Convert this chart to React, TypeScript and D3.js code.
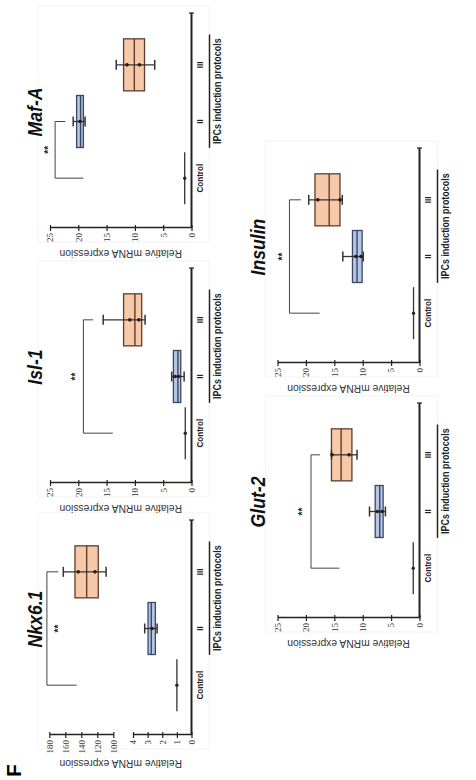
import React, { useEffect, useRef } from 'react';
import * as d3 from 'd3';

const categories = ["Control", "II", "III"];
const genes = ["Nkx6.1", "Isl-1", "Maf-A", "Glut-2", "Insulin"];
const yTicks = [0, 5, 10, 15, 20, 25];
const nkxLowTicks = [0, 1, 2, 3, 4];
const nkxHighTicks = [100, 120, 140, 160, 180];

// control group (relative expression ~1)
const controlMean = [1.0, 1.1, 1.2, 1.1, 1.05];

// protocol II
const q1II = [2.47, 1.9, 19.1, 6.4, 10.1];
const medianII = [2.75, 2.4, 19.6, 7.0, 11.0];
const q3II = [2.97, 3.2, 20.3, 7.8, 11.8];
const lowII = [2.35, 1.3, 18.8, 6.0, 9.9];
const highII = [3.2, 3.5, 20.9, 8.8, 13.5];
const dotsII = [[2.7], [2.9, 2.3], [19.7], [7.4, 6.6], [11.2, 10.3]];

// protocol III
const q1III = [118.8, 8.8, 8.3, 11.9, 14.0];
const medianIII = [133.3, 10.0, 10.1, 13.8, 15.9];
const q3III = [147.9, 12.0, 12.0, 15.5, 18.4];
const lowIII = [109, 8.2, 6.5, 11.0, 13.6];
const highIII = [162.5, 15.6, 13.3, 15.5, 19.5];
const dotsIII = [[143.8, 122.9], [10.9, 9.3], [11.4, 9.2], [15.4, 12.4], [17.9, 14.0]];

// significance brackets
const bracketTarget = ["III", "III", "II", "III", "III"];
const bracketTop = [183, 19.1, 24.1, 19.1, 22.9];
const bracketLegControl = [145.8, 13.9, 19.1, 14.1, 17.6];
const bracketLegTarget = [168.8, 17.4, 22.3, 17.5, 20.9];
const starsAt = [170.8, 20.9, 25.6, 21.0, 24.4];

// panel placement in the unrotated figure (780 wide, 476 tall)
const panels = [
  { x: 45, base: 191.5, top: 50, titleY: 41.5, labelOff: 28 },
  { x: 297, base: 191.5, top: 50, titleY: 41.5, labelOff: 25 },
  { x: 552, base: 191.5, top: 50, titleY: 41.5, labelOff: 25 },
  { x: 162, base: 419.5, top: 277.5, titleY: 265, labelOff: 25 },
  { x: 417, base: 419.5, top: 277.5, titleY: 265, labelOff: 25 },
];

const sans = "'Liberation Sans', Arial, sans-serif";
const serif = "'Liberation Serif', 'Times New Roman', serif";
const ORANGE = "#f8c9a8", ORANGE_STROKE = "#5c3d2e";
const BLUE = "#b4c6e4", BLUE_STROKE = "#3b4763";

const App = () => {
  const svgRef = useRef(null);

  useEffect(() => {
    const svg = d3.select(svgRef.current);
    svg.selectAll("*").remove();

    const root = svg.append("g").attr("transform", "translate(0,780) rotate(-90)");

    root.append("text")
      .attr("x", 3).attr("y", 21)
      .attr("font-family", sans).attr("font-weight", "bold").attr("font-size", 21)
      .text("F");

    const styleAxis = (g) => {
      g.select(".domain").attr("stroke", "#222").attr("stroke-width", 1.6);
      g.selectAll(".tick line").attr("stroke", "#222").attr("stroke-width", 1.2);
      g.selectAll(".tick line").clone().attr("x2", 3);
      g.selectAll(".tick text").attr("font-family", serif).attr("font-size", 9).attr("fill", "#333");
    };

    genes.forEach((gene, i) => {
      const L = panels[i];
      const g = root.append("g");
      const x = d3.scaleBand(categories, [L.x + 21.5, L.x + 191.5]);
      const cx = (c) => x(c) + x.bandwidth() / 2;
      const boxW = 52;

      // faint frame
      g.append("rect")
        .attr("x", L.x - 14).attr("y", L.top - 12)
        .attr("width", 236).attr("height", L.base - L.top + 30)
        .attr("fill", "none").attr("stroke", "#f3f3f3").attr("stroke-width", 1);

      let yv;
      if (i === 0) {
        const lo = d3.scaleLinear([0, 4], [L.base, 133]);
        const hi = d3.scaleLinear([100, 180], [113.3, 49.3]);
        yv = (v) => (v >= 50 ? hi(v) : lo(v));
        g.append("g").attr("transform", `translate(${L.x},0)`)
          .call(d3.axisLeft(lo).tickValues(nkxLowTicks).tickFormat(d3.format("d")).tickSize(3).tickPadding(2).tickSizeOuter(0))
          .call(styleAxis);
        g.append("g").attr("transform", `translate(${L.x},0)`)
          .call(d3.axisLeft(hi).tickValues(nkxHighTicks).tickFormat(d3.format("d")).tickSize(3).tickPadding(2).tickSizeOuter(0))
          .call(styleAxis);
      } else {
        const y = d3.scaleLinear([0, 25], [L.base, L.top]);
        yv = y;
        g.append("g").attr("transform", `translate(${L.x},0)`)
          .call(d3.axisLeft(y).tickValues(yTicks).tickFormat(d3.format("d")).tickSize(3).tickPadding(2).tickSizeOuter(0))
          .call(styleAxis);
      }

      // x axis
      g.append("line")
        .attr("x1", L.x).attr("x2", L.x + 215)
        .attr("y1", L.base).attr("y2", L.base)
        .attr("stroke", "#222").attr("stroke-width", 2);
      g.append("line")
        .attr("x1", L.x + 215).attr("x2", L.x + 215)
        .attr("y1", L.base - 2.5).attr("y2", L.base + 2.5)
        .attr("stroke", "#222").attr("stroke-width", 1.2);

      g.append("g").attr("transform", `translate(0,${L.base})`)
        .call(d3.axisBottom(x).tickSize(0).tickPadding(5))
        .call((a) => a.select(".domain").remove())
        .call((a) => a.selectAll(".tick text")
          .attr("font-family", sans).attr("font-weight", "bold").attr("font-size", 9.5)
          .attr("fill", "#222").attr("transform", "scale(0.85,1)"));

      // y label
      g.append("text")
        .attr("transform", `translate(${L.x - L.labelOff + 3.5},${(L.base + L.top) / 2}) rotate(-90)`)
        .attr("text-anchor", "middle")
        .attr("font-family", sans).attr("font-size", 10.3).attr("fill", "#333")
        .text("Relative mRNA expression");

      // title
      g.append("text")
        .attr("transform", `translate(${L.x + 116},${L.titleY}) scale(0.84,1)`)
        .attr("text-anchor", "middle")
        .attr("font-family", sans).attr("font-weight", "bold").attr("font-style", "italic")
        .attr("font-size", 21).attr("fill", "#111")
        .text(gene);

      // protocols bracket
      g.append("line")
        .attr("x1", x("II") + 2).attr("x2", x("III") + x.bandwidth() + 2)
        .attr("y1", L.base + 18).attr("y2", L.base + 18)
        .attr("stroke", "#222").attr("stroke-width", 1.5);
      g.append("text")
        .attr("transform", `translate(${(x("II") + x("III") + x.bandwidth()) / 2 + 2},${L.base + 29}) scale(0.85,1)`)
        .attr("text-anchor", "middle")
        .attr("font-family", sans).attr("font-weight", "bold").attr("font-size", 10.5).attr("fill", "#222")
        .text("IPCs induction protocols");

      // control
      g.append("line")
        .attr("x1", cx("Control") - boxW / 2).attr("x2", cx("Control") + boxW / 2)
        .attr("y1", yv(controlMean[i])).attr("y2", yv(controlMean[i]))
        .attr("stroke", "#333").attr("stroke-width", 1.3);
      g.append("circle")
        .attr("cx", cx("Control")).attr("cy", yv(controlMean[i])).attr("r", 1.7).attr("fill", "#222");

      const groups = [
        { c: "II", q1: q1II[i], med: medianII[i], q3: q3II[i], lo: lowII[i], hi: highII[i], dots: dotsII[i], fill: BLUE, stroke: BLUE_STROKE },
        { c: "III", q1: q1III[i], med: medianIII[i], q3: q3III[i], lo: lowIII[i], hi: highIII[i], dots: dotsIII[i], fill: ORANGE, stroke: ORANGE_STROKE },
      ];
      groups.forEach((d) => {
        const c = cx(d.c);
        g.append("rect")
          .attr("x", c - boxW / 2).attr("width", boxW)
          .attr("y", yv(d.q3)).attr("height", yv(d.q1) - yv(d.q3))
          .attr("fill", d.fill).attr("stroke", d.stroke).attr("stroke-width", 1.3);
        g.append("line")
          .attr("x1", c - boxW / 2).attr("x2", c + boxW / 2)
          .attr("y1", yv(d.med)).attr("y2", yv(d.med))
          .attr("stroke", d.stroke).attr("stroke-width", 1.4);
        g.append("line")
          .attr("x1", c).attr("x2", c)
          .attr("y1", yv(d.lo)).attr("y2", yv(d.hi))
          .attr("stroke", "#333").attr("stroke-width", 1.3);
        [d.lo, d.hi].forEach((v) => {
          g.append("line")
            .attr("x1", c - 5).attr("x2", c + 5)
            .attr("y1", yv(v)).attr("y2", yv(v))
            .attr("stroke", "#333").attr("stroke-width", 1.5);
        });
        d.dots.forEach((v) => {
          g.append("circle").attr("cx", c).attr("cy", yv(v)).attr("r", 1.8).attr("fill", "#2a1a12");
        });
      });

      // significance
      const xa = cx("Control"), xb = cx(bracketTarget[i]);
      g.append("path")
        .attr("d", `M${xa},${yv(bracketLegControl[i])}V${yv(bracketTop[i])}H${xb}V${yv(bracketLegTarget[i])}`)
        .attr("fill", "none").attr("stroke", "#444").attr("stroke-width", 1);
      g.append("text")
        .attr("x", (xa + xb) / 2).attr("y", yv(starsAt[i]) + 5.5)
        .attr("text-anchor", "middle")
        .attr("font-family", sans).attr("font-weight", "bold").attr("font-size", 10).attr("fill", "#222")
        .text("**");
    });
  }, []);

  return (
    <svg ref={svgRef} width={476} height={780}
      style={{ position: 'absolute', left: 0, top: 0, background: '#fff' }} />
  );
};

export default App;
